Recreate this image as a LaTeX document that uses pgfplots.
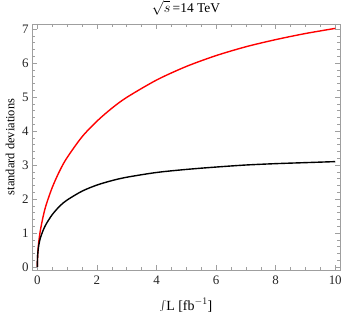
\documentclass[border=0pt]{standalone}
\usepackage{fontspec}
\setmainfont{Liberation Serif}
\usepackage{pgfplots}
\pgfplotsset{compat=1.18}
\begin{document}
\begin{tikzpicture}
\begin{axis}[
  scale only axis,
  width=308bp, height=246bp,
  xmin=-0.18, xmax=10.16,
  ymin=-0.09, ymax=7.15,
  xtick={0,2,4,6,8,10},
  ytick={0,1,2,3,4,5,6,7},
  minor x tick num=3,
  minor y tick num=4,
  tick align=inside,
  major tick length=5bp,
  minor tick length=3bp,
  axis line style={draw=gray!75, line width=0.6pt},
  every tick/.style={draw=gray!75, line width=0.5pt},
  tick label style={font=\fontsize{13}{15}\selectfont, text=black!85},
  xticklabel style={yshift=-2bp},
  /pgf/number format/assume math mode=true,
  title={$\sqrt{s}$\,=14 TeV},
  title style={font=\fontsize{13.5}{15}\selectfont, inner sep=0pt, at={(axis description cs:0.5,1)}, anchor=base, yshift=6bp},
  xlabel={$\int$L [fb$^{-1}$]},
  xlabel style={font=\fontsize{14}{16}\selectfont, at={(axis description cs:0.5,0)}, anchor=base, yshift=-40bp},
  ylabel={standard deviations},
  ylabel style={font=\fontsize{12.5}{14}\selectfont, at={(axis description cs:-0.0714,0.5)}, anchor=center},
]
\addplot[red, line width=1.4pt, smooth] coordinates {
(0,0) (0.005,0.24) (0.02,0.48) (0.05,0.76) (0.1,1.07) (0.2,1.51) (0.3,1.84)
(0.5,2.34) (0.75,2.83) (1.0,3.22) (1.5,3.83) (2.0,4.29) (2.5,4.67) (3.0,4.99)
(4.0,5.50) (5.0,5.90) (6.0,6.22) (7.0,6.48) (8.0,6.69) (9.0,6.87) (10,7.02)
};
\addplot[black, line width=1.4pt, smooth] coordinates {
(0,0) (0.005,0.25) (0.02,0.45) (0.05,0.65) (0.1,0.85) (0.2,1.09) (0.3,1.27)
(0.5,1.54) (0.75,1.79) (1.0,1.97) (1.5,2.23) (2.0,2.41) (2.5,2.54) (3.0,2.64)
(4.0,2.78) (5.0,2.87) (6.0,2.94) (7.0,3.00) (8.0,3.04) (9.0,3.07) (10,3.10)
};
\end{axis}
\pgfresetboundingbox
\path (-32bp,-46bp) rectangle (309bp,270bp);
\end{tikzpicture}
\end{document}
